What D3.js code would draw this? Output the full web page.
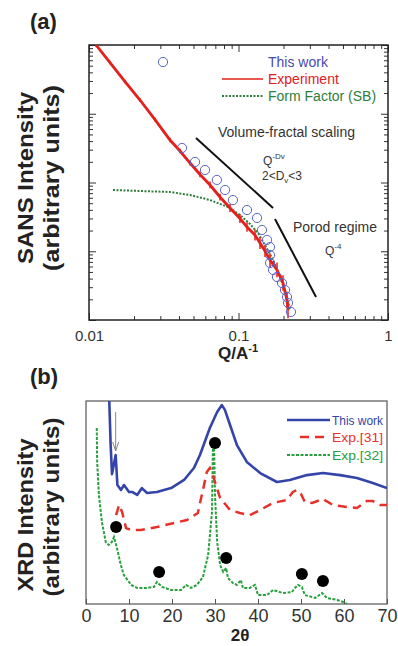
<!DOCTYPE html>
<html>
<head>
<meta charset="utf-8">
<script src="https://cdn.jsdelivr.net/npm/d3@7"></script>
<style>
  html, body { margin: 0; padding: 0; background: #fff; }
  svg { display: block; font-family: "Liberation Sans", Arial, sans-serif; }
</style>
</head>
<body>
<div id="chart"></div>
<script>
// ---- panel (a): SANS, log-log ----
const expQ = [0.01114, 0.01382, 0.01741, 0.02193, 0.02763, 0.03482, 0.04062, 0.04740, 0.05527, 0.06448,
  0.07520, 0.08772, 0.1023, 0.1140, 0.1289, 0.1392, 0.1504, 0.1625, 0.1809, 0.1984, 0.2111, 0.2144];
const expI = [10000, 5546, 2944, 1585, 822, 415, 287, 192, 131, 92,
  61.5, 42.6, 29.9, 22.5, 17.2, 13.2, 10.1, 7.46, 5.34, 3.45, 1.95, 1.40];
// spread of the noisy experimental trace (factor up/down) at each point
const expSpread = [1.06, 1.06, 1.06, 1.07, 1.07, 1.08, 1.08, 1.09, 1.1, 1.12,
  1.12, 1.14, 1.16, 1.17, 1.2, 1.22, 1.22, 1.25, 1.28, 1.3, 1.32, 1.32];

const workQ = [0.0419, 0.0512, 0.0597, 0.0717, 0.0813, 0.0918, 0.1140, 0.1330, 0.1436, 0.1552,
  0.1625, 0.1625, 0.1625, 0.1703, 0.1809, 0.1954, 0.2047, 0.2111, 0.2144, 0.2244];
const workI = [318, 199, 152, 109, 77.8, 55.6, 39.8, 30.5, 20.4, 14.6,
  11.5, 8.81, 6.75, 5.34, 4.22, 3.45, 2.73, 2.16, 1.77, 1.31];

const ffQ = [0.01447, 0.02193, 0.03482, 0.04740, 0.06448, 0.0851, 0.1023, 0.1194, 0.1350, 0.1504,
  0.1675, 0.1837, 0.1984, 0.2111, 0.2211];
const ffI = [77.8, 75.2, 72.8, 65.8, 55.6, 44.0, 33.7, 24.9, 18.4, 12.3,
  7.98, 4.99, 3.23, 2.09, 1.40];

// scaling guide segments [q1, i1, q2, i2]
const fractalLine = [0.05195, 444, 0.1702, 42.6];
const porodLine = [0.1754, 29.5, 0.3300, 2.16];

const qTickLabels = ["0.01", "0.1", "1"];

// ---- panel (b): XRD ----
const blueX = [5.4, 5.73, 6.05, 6.9, 7.3, 8.14, 8.84, 10.0, 10.7, 11.9, 13.0, 14.2, 16.5, 19.8, 22.8, 25.1,
  26.5, 28.8, 30.5, 31.6, 32.3, 33.5, 35.1, 37.4, 40.5, 44.4, 47.4, 51.4, 55.1, 59.1, 63.0, 66.7, 70.0];
const blueY = [101, 78.3, 64.0, 73.4, 58.6, 56.2, 58.6, 55.2, 55.2, 53.7, 57.1, 54.7, 55.2, 57.1, 61.1, 67.0,
  73.4, 86.7, 94.6, 98.0, 95.6, 88.2, 78.3, 70.0, 64.5, 60.1, 61.1, 63.5, 64.5, 63.5, 62.1, 59.6, 57.1];

const redX = [7.0, 7.7, 8.4, 9.3, 10.5, 12.8, 16.5, 20.5, 23.5, 26.0, 27.2, 28.1, 28.8, 29.5, 30.2, 31.2,
  33.5, 35.8, 38.1, 40.5, 43.5, 46.7, 48.1, 49.1, 50.0, 50.9, 52.6, 55.1, 57.4, 60.7, 63.0, 65.3, 66.7, 68.4, 70.0];
const redY = [43.8, 48.8, 45.3, 37.4, 36.5, 36.5, 37.9, 39.9, 41.4, 44.8, 56.2, 65.0, 67.0, 63.5, 58.6, 52.2,
  46.3, 44.8, 43.8, 46.3, 49.8, 51.2, 55.2, 56.2, 54.2, 50.2, 49.8, 51.7, 48.8, 47.8, 47.3, 50.7, 50.7, 48.8, 48.8];

const greenX = [2.5, 2.6, 3.0, 3.7, 4.6, 5.3, 6.0, 6.5, 7.2, 8.1, 8.8, 10.5, 11.9, 14.0, 15.8, 16.5, 17.7,
  19.8, 22.1, 23.3, 24.4, 25.8, 27.2, 28.4, 29.3, 29.5, 29.8, 30.0, 30.5, 31.2, 31.9, 32.6, 33.0, 34.2,
  35.1, 36.0, 36.5, 38.1, 39.3, 40.0, 42.1, 43.5, 45.8, 47.9, 48.6, 49.3, 50.2, 50.9, 53.3, 54.9, 56.0,
  58.4, 59.8, 60.7];
const greenY = [86.7, 70.0, 53.7, 40.4, 30.5, 29.1, 30.5, 33.0, 27.6, 19.2, 14.3, 9.4, 7.9, 7.9, 8.4, 10.8, 8.4,
  6.9, 6.9, 9.4, 7.9, 9.4, 13.3, 24.1, 45.3, 75.9, 76.8, 53.7, 30.5, 19.2, 15.8, 17.7, 12.8, 10.3,
  9.4, 11.8, 7.9, 7.9, 9.4, 4.4, 4.4, 6.9, 5.4, 5.9, 7.9, 9.4, 8.4, 4.4, 3.0, 5.4, 3.0,
  2.0, 1.0, 0];

const dotX = [7.0, 17.0, 30.0, 32.6, 50.2, 55.1];
const dotY = [37.9, 15.8, 79.3, 22.7, 14.8, 11.3];

const arrowX = 6.9, arrowTop = 94.6, arrowTip = 75.4;

const thetaTicks = [0, 10, 20, 30, 40, 50, 60, 70];

const W = 398, H = 646;
const svg = d3.select("#chart").append("svg").attr("width", W).attr("height", H);

const isMajor = v => Math.abs(Math.log10(v) - Math.round(Math.log10(v))) < 1e-6;

// ================= panel (a) =================
const xA = d3.scaleLog().domain([0.01, 1]).range([89, 388]);
const yA = d3.scaleLog().domain([1, 1e4]).range([320, 45]);

svg.append("clipPath").attr("id", "clipA").append("rect")
  .attr("x", 89).attr("y", 45).attr("width", 299).attr("height", 275);

// ticks on all four sides, pointing inward
const qT = xA.ticks();
const iT = yA.ticks();
function tickLen(v) { return isMajor(v) ? 7 : 4; }

svg.append("g").attr("transform", "translate(0,320)")
  .call(d3.axisBottom(xA).tickValues(qT).tickSizeInner(-7).tickSizeOuter(0).tickPadding(10)
    .tickFormat(d => isMajor(d) ? qTickLabels[Math.round(Math.log10(d)) + 2] : ""))
  .call(g => g.select(".domain").remove())
  .call(g => g.selectAll(".tick line").attr("y2", d => -tickLen(d)).attr("stroke", "#333"))
  .call(g => g.selectAll(".tick text").attr("font-size", 15).attr("fill", "#333")
    .attr("font-family", "Liberation Sans, Arial, sans-serif"));

svg.append("g").attr("transform", "translate(0,45)")
  .call(d3.axisTop(xA).tickValues(qT).tickSizeOuter(0).tickFormat(""))
  .call(g => g.select(".domain").remove())
  .call(g => g.selectAll(".tick line").attr("y2", d => tickLen(d)).attr("stroke", "#333"));

svg.append("g").attr("transform", "translate(89,0)")
  .call(d3.axisLeft(yA).tickValues(iT).tickSizeOuter(0).tickFormat(""))
  .call(g => g.select(".domain").remove())
  .call(g => g.selectAll(".tick line").attr("x2", d => tickLen(d)).attr("stroke", "#333"));

svg.append("g").attr("transform", "translate(388,0)")
  .call(d3.axisRight(yA).tickValues(iT).tickSizeOuter(0).tickFormat(""))
  .call(g => g.select(".domain").remove())
  .call(g => g.selectAll(".tick line").attr("x2", d => -tickLen(d)).attr("stroke", "#333"));

svg.append("rect").attr("x", 89).attr("y", 45).attr("width", 299).attr("height", 275)
  .attr("fill", "none").attr("stroke", "#222").attr("stroke-width", 1.5);

const plotA = svg.append("g").attr("clip-path", "url(#clipA)");

const lineA = d3.line().x(d => xA(d[0])).y(d => yA(d[1]));

// form factor (dotted green)
plotA.append("path").datum(ffQ.map((q, i) => [q, ffI[i]]))
  .attr("d", lineA).attr("fill", "none").attr("stroke", "#2f7d3b")
  .attr("stroke-width", 2).attr("stroke-dasharray", "2,1.5");

// experiment (red, noisy)
const expPts = expQ.map((q, i) => [q, expI[i], expSpread[i]]);
plotA.append("path").datum(expPts)
  .attr("d", lineA).attr("fill", "none").attr("stroke", "#e3201b").attr("stroke-width", 2.8);
plotA.selectAll("line.err").data(expPts).join("line").attr("class", "err")
  .attr("x1", d => xA(d[0])).attr("x2", d => xA(d[0]))
  .attr("y1", d => yA(d[1] * d[2])).attr("y2", d => yA(d[1] / d[2]))
  .attr("stroke", "#e3201b").attr("stroke-width", 1.5);

// this work (open blue circles)
plotA.selectAll("circle.work").data(workQ.map((q, i) => [q, workI[i]])).join("circle")
  .attr("class", "work")
  .attr("cx", d => xA(d[0])).attr("cy", d => yA(d[1])).attr("r", 4.6)
  .attr("fill", "none").attr("stroke", "#5a64c4").attr("stroke-width", 1);

// scaling guides
[fractalLine, porodLine].forEach(s => {
  svg.append("line")
    .attr("x1", xA(s[0])).attr("y1", yA(s[1])).attr("x2", xA(s[2])).attr("y2", yA(s[3]))
    .attr("stroke", "#111").attr("stroke-width", 2);
});

// legend (a)
svg.append("circle").attr("cx", 163).attr("cy", 62).attr("r", 4.6)
  .attr("fill", "none").attr("stroke", "#5a64c4").attr("stroke-width", 1);
svg.append("line").attr("x1", 222).attr("x2", 263).attr("y1", 79).attr("y2", 79)
  .attr("stroke", "#e3201b").attr("stroke-width", 1.5);
svg.append("line").attr("x1", 222).attr("x2", 263).attr("y1", 96).attr("y2", 96)
  .attr("stroke", "#2f7d3b").attr("stroke-width", 2).attr("stroke-dasharray", "2,1.5");
const legA = [["This work", "#4a4ab0", 67], ["Experiment", "#e3201b", 84], ["Form Factor (SB)", "#2f7d3b", 101]];
legA.forEach(l => svg.append("text").attr("x", 268).attr("y", l[2]).attr("font-size", 14)
  .attr("fill", l[1]).text(l[0]));

// annotations
svg.append("text").attr("x", 218).attr("y", 137).attr("font-size", 14).attr("fill", "#333")
  .text("Volume-fractal scaling");
const qdv = svg.append("text").attr("x", 263).attr("y", 165).attr("font-size", 12).attr("fill", "#333");
qdv.append("tspan").text("Q");
qdv.append("tspan").attr("dy", -6).attr("font-size", 8).text("-Dv");
const dv = svg.append("text").attr("x", 262).attr("y", 180).attr("font-size", 12).attr("fill", "#333");
dv.append("tspan").text("2<D");
dv.append("tspan").attr("dy", 3).attr("font-size", 8).text("v");
dv.append("tspan").attr("dy", -3).text("<3");
svg.append("text").attr("x", 293).attr("y", 232).attr("font-size", 14).attr("fill", "#333")
  .text("Porod regime");
const q4 = svg.append("text").attr("x", 325).attr("y", 255).attr("font-size", 12).attr("fill", "#333");
q4.append("tspan").text("Q");
q4.append("tspan").attr("dy", -6).attr("font-size", 8).text("-4");

// titles and axis labels (a)
svg.append("text").attr("x", 30).attr("y", 29).attr("font-size", 22).attr("font-weight", "bold")
  .attr("fill", "#222").text("(a)");
const qlab = svg.append("text").attr("x", 238).attr("y", 359).attr("text-anchor", "middle")
  .attr("font-size", 17).attr("font-weight", "bold").attr("fill", "#222");
qlab.append("tspan").text("Q/A");
qlab.append("tspan").attr("dy", -7).attr("font-size", 11).text("-1");

function yLabel(txt, x, cy, len) {
  svg.append("text").attr("transform", `translate(${x},${cy}) rotate(-90)`)
    .attr("text-anchor", "middle").attr("font-size", 22).attr("font-weight", "bold")
    .attr("fill", "#222").attr("textLength", len).attr("lengthAdjust", "spacingAndGlyphs")
    .text(txt);
}
yLabel("SANS Intensity", 33, 178, 172);
yLabel("(arbitrary units)", 59, 178, 186);

// ================= panel (b) =================
const xB = d3.scaleLinear().domain([0, 70]).range([86, 387]);
const yB = d3.scaleLinear().domain([0, 100]).range([604, 401]);

svg.append("clipPath").attr("id", "clipB").append("rect")
  .attr("x", 86).attr("y", 401).attr("width", 301).attr("height", 203);

svg.append("g").attr("transform", "translate(0,604)")
  .call(d3.axisBottom(xB).tickValues(thetaTicks).tickSizeInner(-5).tickSizeOuter(0).tickPadding(5)
    .tickFormat(d3.format("d")))
  .call(g => g.select(".domain").remove())
  .call(g => g.selectAll(".tick line").attr("stroke", "#555"))
  .call(g => g.selectAll(".tick text").attr("font-size", 18).attr("fill", "#333")
    .attr("font-family", "Liberation Sans, Arial, sans-serif"));

svg.append("rect").attr("x", 86).attr("y", 401).attr("width", 301).attr("height", 203)
  .attr("fill", "none").attr("stroke", "#555").attr("stroke-width", 1.2);

const plotB = svg.append("g").attr("clip-path", "url(#clipB)");
const lineB = d3.line().x(d => xB(d[0])).y(d => yB(d[1]));

plotB.append("path").datum(greenX.map((x, i) => [x, greenY[i]]))
  .attr("d", lineB).attr("fill", "none").attr("stroke", "#27a03c")
  .attr("stroke-width", 2).attr("stroke-dasharray", "3,1.5");
plotB.append("path").datum(redX.map((x, i) => [x, redY[i]]))
  .attr("d", lineB).attr("fill", "none").attr("stroke", "#e8302a")
  .attr("stroke-width", 2.5).attr("stroke-dasharray", "9,6");
plotB.append("path").datum(blueX.map((x, i) => [x, blueY[i]]))
  .attr("d", lineB).attr("fill", "none").attr("stroke", "#3444a8").attr("stroke-width", 2.6)
  .attr("stroke-linejoin", "round");

plotB.selectAll("circle.dot").data(dotX.map((x, i) => [x, dotY[i]])).join("circle")
  .attr("class", "dot").attr("cx", d => xB(d[0])).attr("cy", d => yB(d[1])).attr("r", 6)
  .attr("fill", "#000");

// grey arrow marking the low-angle feature
const ax = xB(arrowX), ay0 = yB(arrowTop), ay1 = yB(arrowTip);
svg.append("path")
  .attr("d", `M${ax},${ay0}L${ax},${ay1}M${ax - 3},${ay1 - 9}L${ax},${ay1}L${ax + 3},${ay1 - 9}`)
  .attr("fill", "none").attr("stroke", "#888").attr("stroke-width", 1);

// legend (b)
const legB = [
  ["This work", "#3444a8", 420, 287, null, 2.6],
  ["Exp.[31]", "#e8302a", 437, 300, "9,6", 2.5],
  ["Exp.[32]", "#27a03c", 455, 287, "3,1.5", 2]
];
legB.forEach(l => {
  svg.append("line").attr("x1", l[3]).attr("x2", 330).attr("y1", l[2]).attr("y2", l[2])
    .attr("stroke", l[1]).attr("stroke-width", l[5]).attr("stroke-dasharray", l[4]);
  svg.append("text").attr("x", 332).attr("y", l[2] + 4.5).attr("font-size", 13)
    .attr("fill", l[1]).attr("textLength", 51).attr("lengthAdjust", "spacingAndGlyphs").text(l[0]);
});

svg.append("text").attr("x", 30).attr("y", 384).attr("font-size", 22).attr("font-weight", "bold")
  .attr("fill", "#222").text("(b)");
svg.append("text").attr("x", 240).attr("y", 641).attr("text-anchor", "middle")
  .attr("font-size", 17).attr("font-weight", "bold").attr("fill", "#222").text("2θ");
yLabel("XRD Intensity", 33, 515, 153);
yLabel("(arbitrary units)", 59, 507, 179);
</script>
</body>
</html>
